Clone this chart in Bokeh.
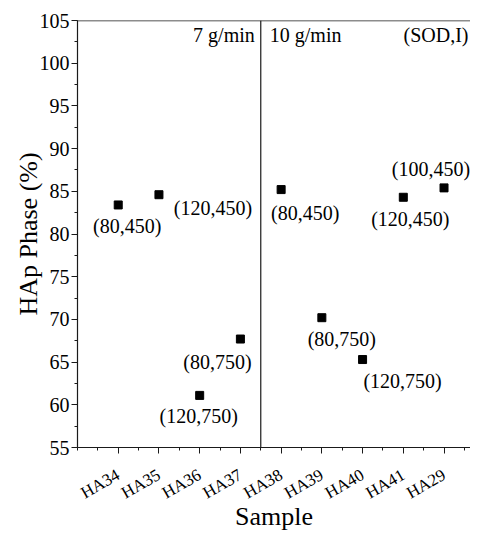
from bokeh.plotting import figure
from bokeh.models import (Range1d, FixedTicker, Span, Label,
                          ColumnDataSource, CustomJSTickFormatter)
from bokeh.embed import file_html
from bokeh.resources import INLINE
from bokeh.core.properties import value

# ---- data ----
samples = ["HA34", "HA35", "HA36", "HA37", "HA38", "HA39", "HA40", "HA41", "HA29"]
hap_phase = [83.4, 84.6, 61.1, 67.7, 85.2, 70.2, 65.3, 84.3, 85.4]
conditions = ["(80,450)", "(120,450)", "(120,750)", "(80,750)", "(80,450)",
              "(80,750)", "(120,750)", "(120,450)", "(100,450)"]
feed_rates = ["7 g/min", "10 g/min"]
group_note = "(SOD,I)"
y_ticks = [55, 60, 65, 70, 75, 80, 85, 90, 95, 100, 105]

# ---- styling (label offsets in screen px) ----
lab_dx = [9, 54, -1, -23, 24, 20, 40, 7, -13]
lab_dy = [21, 13, 21, 23, 23, 21, 21, 22, -19]

FONT = "Liberation Serif"
INK = "#1a1a1a"
X_END = 9.65

xs = list(range(1, len(samples) + 1))
src = ColumnDataSource(dict(x=xs, y=hap_phase, lab=conditions, dx=lab_dx, dy=lab_dy))

p = figure(width=470, height=533, output_backend="svg", toolbar_location=None,
           x_range=Range1d(0, X_END), y_range=Range1d(55, 105),
           min_border_left=77, min_border_right=0, min_border_top=20,
           min_border_bottom=10)
p.xgrid.visible = False
p.ygrid.visible = False
p.outline_line_color = None

p.xaxis.ticker = FixedTicker(ticks=xs, minor_ticks=[i * 0.5 for i in range(0, 20)])
p.xaxis.formatter = CustomJSTickFormatter(args=dict(names=samples),
    code="const i = Math.round(tick) - 1; return (i >= 0 && i < names.length) ? names[i] : '';")
p.xaxis.major_label_orientation = 0.52
p.xaxis.axis_label = "Sample"

p.yaxis.ticker = FixedTicker(ticks=y_ticks, minor_ticks=[55 + 2.5 * i for i in range(21)])
p.yaxis.axis_label = "HAp Phase (%)"

for ax in (p.xaxis[0], p.yaxis[0]):
    ax.axis_line_color = INK
    ax.axis_line_width = 1.2
    ax.major_tick_line_color = INK
    ax.minor_tick_line_color = INK
    ax.major_tick_in = 0
    ax.major_tick_out = 6
    ax.minor_tick_in = 0
    ax.minor_tick_out = 3
    ax.major_label_text_font = FONT
    ax.major_label_text_color = "black"
    ax.axis_label_text_font = FONT
    ax.axis_label_text_font_style = "normal"
    ax.axis_label_text_font_size = "26px"
    ax.axis_label_text_color = "black"

p.yaxis.major_label_text_font_size = "20px"
p.yaxis.major_label_standoff = 2
p.yaxis.axis_label_standoff = -6
p.xaxis.major_label_text_font_size = "17px"
p.xaxis.major_label_standoff = 20
p.xaxis.axis_label_standoff = -12

# top border of the frame and separator between the feed-rate groups
p.add_layout(Span(location=105, dimension="width", line_color=INK, line_width=1.5))
p.add_layout(Span(location=4.5, dimension="height", line_color=INK, line_width=1.2))

p.scatter("x", "y", source=src, marker="square", size=8, color="black")
p.text("x", "y", text="lab", source=src, x_offset="dx", y_offset="dy",
       text_font=value(FONT), text_font_size="20px", text_align="center",
       text_baseline="middle", text_color="black")

p.add_layout(Label(x=4.5, y=105, x_offset=-6, y_offset=-14, text=feed_rates[0],
                   text_font=FONT, text_font_size="20px", text_align="right",
                   text_baseline="middle", text_color="black"))
p.add_layout(Label(x=4.5, y=105, x_offset=9, y_offset=-14, text=feed_rates[1],
                   text_font=FONT, text_font_size="20px", text_align="left",
                   text_baseline="middle", text_color="black"))
p.add_layout(Label(x=X_END, y=105, x_offset=-2, y_offset=-14, text=group_note,
                   text_font=FONT, text_font_size="20px", text_align="right",
                   text_baseline="middle", text_color="black"))

open("out.html", "w").write(file_html(p, INLINE))
